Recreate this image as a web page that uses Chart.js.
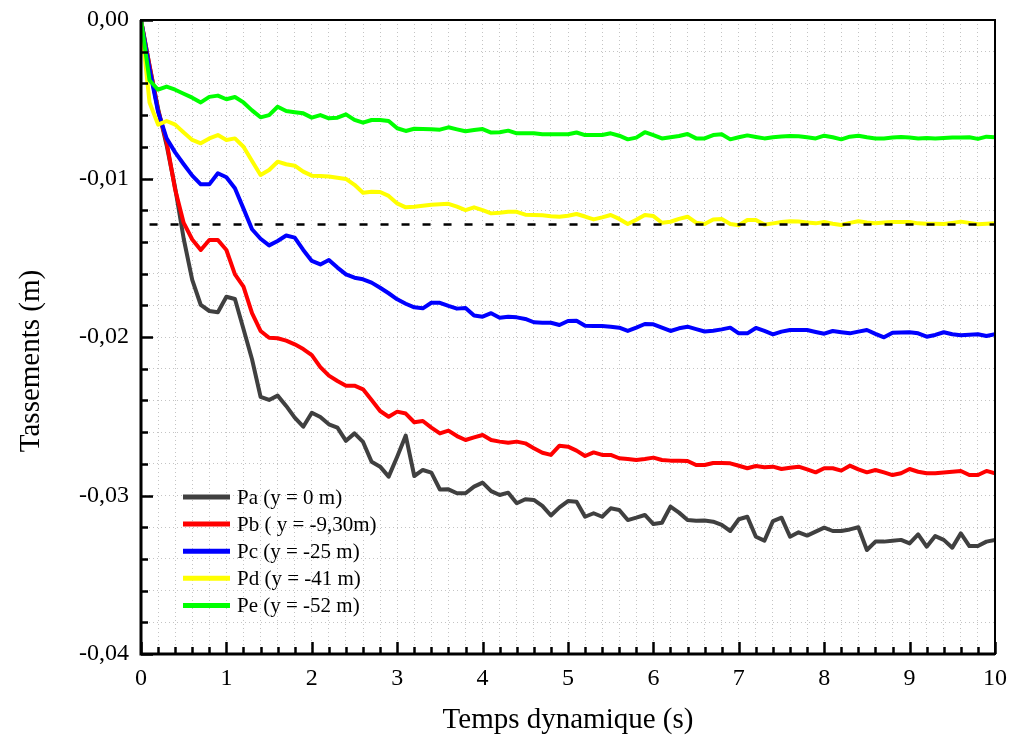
<!DOCTYPE html>
<html>
<head>
<meta charset="utf-8">
<script src="https://cdn.jsdelivr.net/npm/chart.js@4.4.1/dist/chart.umd.min.js"></script>
<style>
    html, body { margin: 0; padding: 0; background: #fff; }
    #wrap { width: 1009px; height: 740px; }
</style>
</head>
<body>
<div id="wrap"><canvas id="tassChart" width="1009" height="740"></canvas></div>
<script>
// Temps dynamique (s)
const times = [
    0, 0.1, 0.2, 0.3, 0.4, 0.5, 0.6, 0.7, 0.8, 0.9,
    1, 1.1, 1.2, 1.3, 1.4, 1.5, 1.6, 1.7, 1.8, 1.9,
    2, 2.1, 2.2, 2.3, 2.4, 2.5, 2.6, 2.7, 2.8, 2.9,
    3, 3.1, 3.2, 3.3, 3.4, 3.5, 3.6, 3.7, 3.8, 3.9,
    4, 4.1, 4.2, 4.3, 4.4, 4.5, 4.6, 4.7, 4.8, 4.9,
    5, 5.1, 5.2, 5.3, 5.4, 5.5, 5.6, 5.7, 5.8, 5.9,
    6, 6.1, 6.2, 6.3, 6.4, 6.5, 6.6, 6.7, 6.8, 6.9,
    7, 7.1, 7.2, 7.3, 7.4, 7.5, 7.6, 7.7, 7.8, 7.9,
    8, 8.1, 8.2, 8.3, 8.4, 8.5, 8.6, 8.7, 8.8, 8.9,
    9, 9.1, 9.2, 9.3, 9.4, 9.5, 9.6, 9.7, 9.8, 9.9,
    10
];

// Tassements (m)
const pa = [
    0, -0.0029, -0.0056, -0.0079, -0.0106, -0.0138, -0.0164, -0.01798, -0.01836, -0.01844,
    -0.01746, -0.0176, -0.0195, -0.0214, -0.02377, -0.02397, -0.0237, -0.02435, -0.02509, -0.02566,
    -0.02478, -0.02505, -0.02551, -0.02572, -0.02655, -0.02608, -0.02662, -0.02787, -0.02818, -0.02881,
    -0.02755, -0.02622, -0.02877, -0.02839, -0.02856, -0.02962, -0.02961, -0.02986, -0.02986, -0.02944,
    -0.02919, -0.02972, -0.02997, -0.02982, -0.03049, -0.03024, -0.03028, -0.03065, -0.03126, -0.03075,
    -0.03035, -0.03039, -0.03134, -0.03112, -0.03134, -0.03081, -0.03091, -0.03155, -0.0314, -0.03123,
    -0.0318, -0.03172, -0.0307, -0.03108, -0.03155, -0.0316, -0.03158, -0.03165, -0.03186, -0.03224,
    -0.0315, -0.03134, -0.0326, -0.03285, -0.03161, -0.0314, -0.0326, -0.03232, -0.03253, -0.03228,
    -0.03203, -0.03224, -0.03224, -0.03214, -0.032, -0.03344, -0.03291, -0.03291, -0.03285, -0.0328,
    -0.03302, -0.03245, -0.03323, -0.03256, -0.0328, -0.03329, -0.03239, -0.03319, -0.03319, -0.03291,
    -0.0328
];
const pb = [
    0, -0.0029, -0.0057, -0.0077, -0.0107, -0.0128, -0.01385, -0.01451, -0.01388, -0.01388,
    -0.01451, -0.01605, -0.01682, -0.0185, -0.01962, -0.02005, -0.02008, -0.02023, -0.02046, -0.02076,
    -0.02114, -0.0219, -0.02244, -0.02278, -0.02307, -0.02307, -0.0233, -0.02397, -0.02467, -0.02503,
    -0.02471, -0.02483, -0.02538, -0.0253, -0.02572, -0.02608, -0.02591, -0.02625, -0.0265, -0.02633,
    -0.02618, -0.0265, -0.0266, -0.02667, -0.0266, -0.02671, -0.02702, -0.0273, -0.02744, -0.02686,
    -0.02692, -0.02717, -0.02751, -0.02728, -0.02744, -0.02744, -0.02765, -0.0277, -0.02776, -0.0277,
    -0.02761, -0.02776, -0.0278, -0.0278, -0.02782, -0.02808, -0.02808, -0.02795, -0.02795, -0.02797,
    -0.02812, -0.02828, -0.02814, -0.02822, -0.02818, -0.02833, -0.02825, -0.02818, -0.02835, -0.02854,
    -0.02828, -0.02828, -0.02843, -0.02812, -0.02835, -0.02854, -0.02839, -0.02854, -0.02871, -0.0286,
    -0.02833, -0.0285, -0.0286, -0.0286, -0.02855, -0.0285, -0.02845, -0.02871, -0.02871, -0.02845,
    -0.0286
];
const pc = [
    0, -0.0031, -0.0058, -0.00747, -0.00835, -0.0091, -0.00982, -0.01037, -0.01037, -0.00967,
    -0.00992, -0.01062, -0.0119, -0.0132, -0.0138, -0.01422, -0.01394, -0.0136, -0.01373, -0.01451,
    -0.0152, -0.01542, -0.01514, -0.01562, -0.01605, -0.01626, -0.01636, -0.01657, -0.01689, -0.01724,
    -0.01762, -0.0179, -0.01813, -0.01819, -0.01784, -0.01784, -0.01804, -0.01821, -0.01817, -0.01865,
    -0.01872, -0.0185, -0.01878, -0.01872, -0.01876, -0.01886, -0.01907, -0.0191, -0.0191, -0.01924,
    -0.01899, -0.01897, -0.01929, -0.01931, -0.01931, -0.01935, -0.01941, -0.01962, -0.01941, -0.01918,
    -0.0192, -0.01941, -0.01962, -0.01945, -0.01935, -0.0195, -0.01965, -0.0196, -0.01952, -0.01941,
    -0.01977, -0.01977, -0.01943, -0.01962, -0.01983, -0.01966, -0.01956, -0.01956, -0.01956, -0.01968,
    -0.01979, -0.01962, -0.0197, -0.01977, -0.01966, -0.01956, -0.0198, -0.02002, -0.01973, -0.01971,
    -0.0197, -0.01977, -0.01998, -0.01987, -0.0197, -0.01983, -0.01989, -0.01986, -0.01983, -0.01994,
    -0.01983
];
const pd = [
    0, -0.0052, -0.0066, -0.00637, -0.0066, -0.0071, -0.00757, -0.00778, -0.00747, -0.00726,
    -0.00757, -0.00747, -0.008, -0.0089, -0.00978, -0.00946, -0.00894, -0.0091, -0.00919, -0.00957,
    -0.00982, -0.00984, -0.00988, -0.00995, -0.01003, -0.0104, -0.0109, -0.01083, -0.01085, -0.0111,
    -0.01157, -0.01182, -0.01178, -0.01172, -0.01165, -0.01163, -0.0116, -0.01178, -0.01199, -0.01182,
    -0.01199, -0.0122, -0.01216, -0.0121, -0.0121, -0.01228, -0.0123, -0.01232, -0.01238, -0.01241,
    -0.01235, -0.01224, -0.0124, -0.01258, -0.01245, -0.0123, -0.01255, -0.01287, -0.0126, -0.0123,
    -0.01237, -0.01279, -0.01273, -0.01255, -0.01241, -0.01279, -0.01287, -0.01258, -0.01255, -0.01287,
    -0.01295, -0.01262, -0.01262, -0.01291, -0.01283, -0.01275, -0.0127, -0.01272, -0.01278, -0.01283,
    -0.01274, -0.01285, -0.01293, -0.0128, -0.0127, -0.01278, -0.01283, -0.01278, -0.01274, -0.01274,
    -0.01274, -0.01283, -0.01285, -0.01286, -0.01287, -0.0128, -0.01272, -0.0128, -0.01289, -0.01285,
    -0.01283
];
const pe = [
    0, -0.0038, -0.0044, -0.0042, -0.0044, -0.00465, -0.0049, -0.0052, -0.00485, -0.00477,
    -0.005, -0.00486, -0.0052, -0.0057, -0.00614, -0.006, -0.00547, -0.00574, -0.00582, -0.00589,
    -0.00616, -0.006, -0.0062, -0.00616, -0.00595, -0.0063, -0.00648, -0.00631, -0.00631, -0.00637,
    -0.00683, -0.007, -0.00686, -0.00688, -0.0069, -0.00692, -0.00677, -0.0069, -0.00702, -0.00694,
    -0.00688, -0.0071, -0.00708, -0.00698, -0.00715, -0.00715, -0.00715, -0.00721, -0.00721, -0.00721,
    -0.00721, -0.0071, -0.00726, -0.00726, -0.00726, -0.00715, -0.0073, -0.00753, -0.00742, -0.00708,
    -0.00726, -0.00747, -0.0074, -0.00732, -0.00719, -0.00747, -0.00747, -0.00726, -0.00721, -0.00753,
    -0.0074, -0.00728, -0.00738, -0.00747, -0.0074, -0.00735, -0.00732, -0.00734, -0.0074, -0.00747,
    -0.0073, -0.0074, -0.00753, -0.00736, -0.0073, -0.0074, -0.00747, -0.00747, -0.00742, -0.00738,
    -0.00742, -0.00747, -0.00745, -0.00747, -0.00744, -0.00742, -0.00741, -0.0074, -0.0075, -0.00736,
    -0.0074
];

// horizontal dashed reference level
const refLevel = -0.0129;
const refSpan = [0.1, 10];

const seriesLabels = ['Pa (y = 0 m)', 'Pb ( y = -9,30m)', 'Pc (y = -25 m)', 'Pd (y = -41 m)', 'Pe (y = -52 m)'];
const seriesValues = [pa, pb, pc, pd, pe];
const seriesColors = ['#404040', '#ff0000', '#0000ff', '#ffff00', '#00ff00'];

const SERIF = "'Liberation Serif', 'Times New Roman', serif";

function toPoints(values) {
    return times.map((t, i) => ({x: t, y: values[i]}));
}

/**
 * Inward ticks, frame, legend and axis titles
 */
const decorPlugin = {
    id: 'decor',
    afterDatasetsDraw(chart) {
        const {ctx, chartArea: a, scales: {x, y}} = chart;
        ctx.save();
        ctx.strokeStyle = '#000';
        ctx.lineWidth = 2.5;
        ctx.beginPath();
        y.ticks.forEach(t => {
            const py = Math.round(y.getPixelForValue(t.value)) + 0.5;
            const major = Math.round(t.value * 1000) % 10 === 0;
            ctx.moveTo(a.left, py);
            ctx.lineTo(a.left + (major ? 12 : 7), py);
        });
        x.ticks.forEach(t => {
            const px = Math.round(x.getPixelForValue(t.value)) + 0.5;
            const major = Math.round(t.value * 10) % 10 === 0;
            ctx.moveTo(px, a.bottom);
            ctx.lineTo(px, a.bottom - (major ? 12 : 7));
        });
        ctx.stroke();

        // frame
        ctx.lineWidth = 2;
        ctx.strokeRect(a.left, a.top, a.right - a.left, a.bottom - a.top);
        ctx.lineWidth = 3;
        ctx.beginPath();
        ctx.moveTo(a.left, a.top);
        ctx.lineTo(a.left, a.bottom);
        ctx.lineTo(a.right, a.bottom);
        ctx.stroke();

        // legend
        ctx.font = '21px ' + SERIF;
        ctx.textBaseline = 'middle';
        ctx.textAlign = 'left';
        seriesLabels.forEach((label, i) => {
            const ly = 497 + i * 27.1;
            ctx.strokeStyle = seriesColors[i];
            ctx.lineWidth = 5;
            ctx.beginPath();
            ctx.moveTo(183, ly);
            ctx.lineTo(230, ly);
            ctx.stroke();
            ctx.fillStyle = '#000';
            ctx.fillText(label, 237, ly + 1);
        });

        // axis titles
        ctx.font = '29px ' + SERIF;
        ctx.textAlign = 'center';
        ctx.fillText('Temps dynamique (s)', (a.left + a.right) / 2, 720);
        ctx.translate(31, 361);
        ctx.rotate(-Math.PI / 2);
        ctx.fillText('Tassements (m)', 0, 0);
        ctx.restore();
    }
};

const datasets = [{
    label: 'ref',
    data: [{x: refSpan[0], y: refLevel}, {x: refSpan[1], y: refLevel}],
    borderColor: '#000',
    borderWidth: 2.5,
    borderDash: [8, 13],
    pointRadius: 0
}];
// Pe drawn on top, Pa at the bottom
for (let i = seriesValues.length - 1; i >= 0; i--) {
    datasets.push({
        label: seriesLabels[i],
        data: toPoints(seriesValues[i]),
        borderColor: seriesColors[i],
        borderWidth: 4,
        borderJoinStyle: 'round',
        pointRadius: 0,
        tension: 0
    });
}

new Chart(document.getElementById('tassChart'), {
    type: 'line',
    data: {datasets},
    plugins: [decorPlugin],
    options: {
        responsive: false,
        animation: false,
        devicePixelRatio: 1,
        layout: {padding: {left: 0, top: 20, right: 14, bottom: 0}},
        plugins: {legend: {display: false}, tooltip: {enabled: false}},
        scales: {
            x: {
                type: 'linear',
                min: 0,
                max: 10,
                afterFit: s => {
                    s.height = 86;
                    s.paddingLeft = 0;
                    s.paddingRight = 0;
                },
                ticks: {
                    stepSize: 0.2,
                    autoSkip: false,
                    maxRotation: 0,
                    padding: 10,
                    color: '#000',
                    font: {family: SERIF, size: 24},
                    callback: v => {
                        const n = Math.round(v * 10);
                        return n % 10 === 0 ? String(n / 10) : '';
                    }
                },
                grid: {color: '#c4c4c4', lineWidth: 1, drawTicks: false},
                border: {display: false, dash: [1, 3]}
            },
            y: {
                type: 'linear',
                min: -0.04,
                max: 0,
                afterFit: s => {
                    s.width = 141;
                    s.paddingTop = 0;
                    s.paddingBottom = 0;
                },
                ticks: {
                    stepSize: 0.002,
                    autoSkip: false,
                    padding: 12,
                    color: '#000',
                    font: {family: SERIF, size: 24},
                    callback: v => {
                        const n = Math.round(v * 1000);
                        return n % 10 === 0 ? (n / 1000).toFixed(2).replace('.', ',') : '';
                    }
                },
                grid: {color: '#c4c4c4', lineWidth: 1, drawTicks: false},
                border: {display: false, dash: [1, 3]}
            }
        }
    }
});
</script>
</body>
</html>
